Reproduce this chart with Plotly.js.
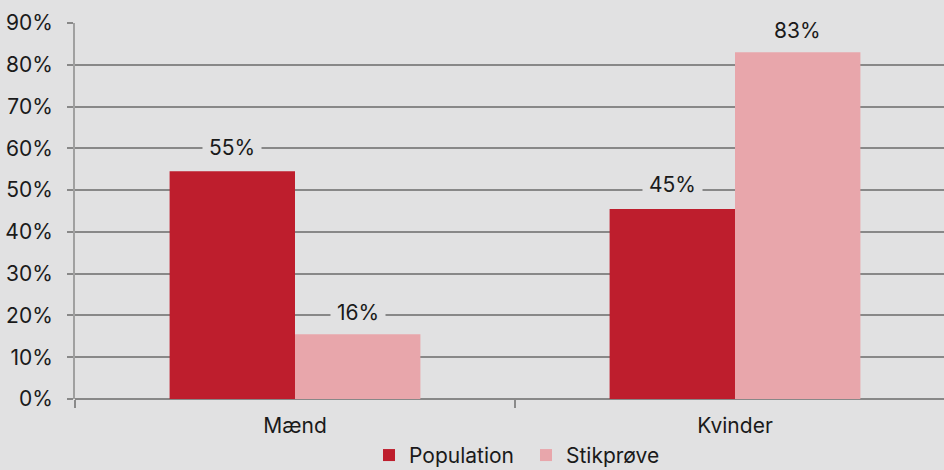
<!DOCTYPE html>
<html>
<head>
<meta charset="utf-8">
<script src="https://cdn.plot.ly/plotly-3.0.1.min.js"></script>
<style>html,body{margin:0;padding:0;background:#e1e1e2;}</style>
</head>
<body>
<div id="chart" style="width:944px;height:470px;"></div>
<script>
const categories = ["Mænd", "Kvinder"];
const seriesNames = ["Population", "Stikprøve"];
const population = [54.5, 45.5];
const stikproeve = [15.5, 83];
const popLabels = ["55%", "45%"];
const stikLabels = ["16%", "83%"];
const yTickVals = [0, 10, 20, 30, 40, 50, 60, 70, 80, 90];
const yTickText = ["0%", "10%", "20%", "30%", "40%", "50%", "60%", "70%", "80%", "90%"];

const colors = ["#be1e2d", "#e8a6ab"];
const bg = "#e1e1e2";
const font = {family: "Inter, 'Noto Sans', sans-serif", size: 21, color: "#1a1a1a"};

const traces = [
  {type: "bar", name: seriesNames[0], x: categories, y: population, marker: {color: colors[0]}, offsetgroup: "a", hoverinfo: "none"},
  {type: "bar", name: seriesNames[1], x: categories, y: stikproeve, marker: {color: colors[1]}, offsetgroup: "b", hoverinfo: "none"}
];

const annotations = [];
const barW = 0.285;
categories.forEach((c, i) => {
  annotations.push({x: i - barW / 2, y: population[i], text: popLabels[i], showarrow: false, yshift: 24,
    bgcolor: bg, borderpad: 6, font: font, xref: "x", yref: "y"});
  annotations.push({x: i + barW / 2, y: stikproeve[i], text: stikLabels[i], showarrow: false, yshift: 22,
    bgcolor: bg, borderpad: 6, font: font, xref: "x", yref: "y"});
});

const layout = {
  width: 944, height: 470,
  paper_bgcolor: bg, plot_bgcolor: bg,
  font: font,
  margin: {l: 75, r: 0, t: 23, b: 71, autoexpand: false},
  barmode: "group", bargap: 0.43, bargroupgap: 0,
  showlegend: true,
  legend: {orientation: "h", x: 369 / 944, xanchor: "left", xref: "container", y: -0.15, yanchor: "middle", yref: "paper",
    font: font, bgcolor: "rgba(0,0,0,0)", entrywidth: 112, entrywidthmode: "pixels", tracegroupgap: 0, borderwidth: 0},
  xaxis: {type: "category", range: [-0.5, 1.475], tickson: "boundaries", ticks: "outside", ticklen: 8, tickwidth: 1.5, tickcolor: "#8a8a8a",
    showgrid: false, showline: false, zeroline: false, fixedrange: true, tickfont: font, automargin: false, ticklabelstandoff: 12},
  yaxis: {range: [0, 90], tickvals: yTickVals, ticktext: yTickText, showgrid: true, gridcolor: "#888888", gridwidth: 2,
    zeroline: true, zerolinecolor: "#888888", zerolinewidth: 2,
    showline: true, linecolor: "#a0a0a0", linewidth: 2, ticks: "outside", ticklen: 6, tickwidth: 2, tickcolor: "#888888",
    tickfont: font, fixedrange: true, automargin: false, ticklabelstandoff: 10},
  annotations: annotations
};

Plotly.newPlot("chart", traces, layout, {displayModeBar: false, staticPlot: true});
</script>
</body>
</html>
